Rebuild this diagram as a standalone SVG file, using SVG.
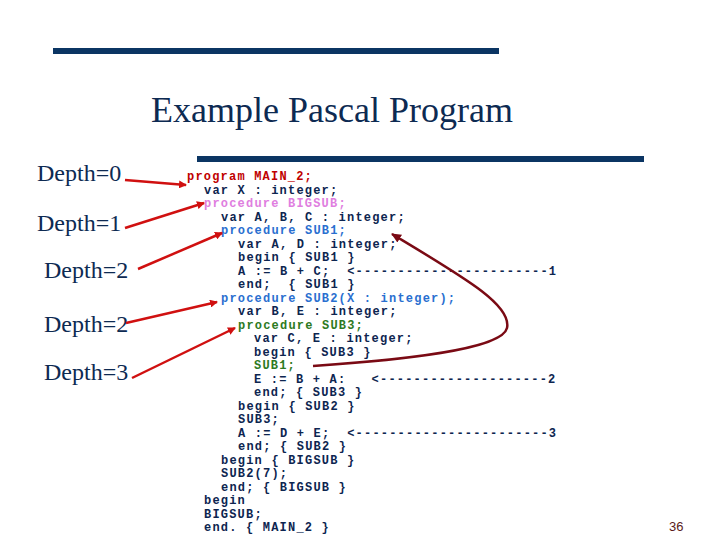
<svg xmlns="http://www.w3.org/2000/svg" width="720" height="540" viewBox="0 0 720 540">
<defs>
<style>
.bar{fill:#0b3563}
.title{font-family:"Liberation Serif","Times New Roman",serif;font-size:36px;fill:#0d2a52}
.depth{font-family:"Liberation Serif","Times New Roman",serif;font-size:24px;fill:#0d2a52}
.code{font-family:"Liberation Mono","Courier New",monospace;font-size:12px;letter-spacing:1.2px;font-weight:bold;fill:#0d2550}
.red{fill:#c00000}
.pink{fill:#e07ee0}
.blue{fill:#2a6fd0}
.green{fill:#2d7a22}
.arrow{stroke:#d01010;stroke-width:2.5;fill:none;marker-end:url(#ah)}
.curve{stroke:#7a0a14;stroke-width:2.5;fill:none;marker-end:url(#ah2)}
.pg{font-family:"Liberation Sans",Arial,sans-serif;font-size:13px;fill:#5a1a1a}
</style>
<marker id="ah" markerWidth="8" markerHeight="8" refX="7" refY="4" orient="auto" markerUnits="userSpaceOnUse">
<path d="M0,0 L8,4 L0,8 z" fill="#d01010"/>
</marker>
<marker id="ah2" markerWidth="10" markerHeight="9" refX="9" refY="4.5" orient="auto" markerUnits="userSpaceOnUse">
<path d="M0,0 L10,4.5 L0,9 z" fill="#7a0a14"/>
</marker>
</defs>
<rect width="720" height="540" fill="#ffffff"/>
<g id="bars">
<rect class="bar" x="53" y="48" width="446" height="6"/>
<rect class="bar" x="197" y="156" width="447" height="6"/>
</g>
<g id="title"><text class="title" x="332" y="122" text-anchor="middle">Example Pascal Program</text></g>
<g id="depth0"><text class="depth" x="37" y="181">Depth=0</text></g>
<g id="depth1"><text class="depth" x="37" y="231">Depth=1</text></g>
<g id="depth2a"><text class="depth" x="44" y="278">Depth=2</text></g>
<g id="depth2b"><text class="depth" x="44" y="332">Depth=2</text></g>
<g id="depth3"><text class="depth" x="44" y="380">Depth=3</text></g>
<g id="code" class="code">
<text x="187" y="180" class="red">program MAIN_2;</text>
<text x="204" y="193.5">var X : integer;</text>
<text x="204" y="207" class="pink">procedure BIGSUB;</text>
<text x="221" y="220.5">var A, B, C : integer;</text>
<text x="221" y="234" class="blue">procedure SUB1;</text>
<text x="238" y="247.5">var A, D : integer;</text>
<text x="238" y="261">begin { SUB1 }</text>
<text x="238" y="274.5">A := B + C; &#160;&lt;-----------------------1</text>
<text x="238" y="288">end; &#160;{ SUB1 }</text>
<text x="221" y="301.5" class="blue">procedure SUB2(X : integer);</text>
<text x="238" y="315">var B, E : integer;</text>
<text x="238" y="328.5" class="green">procedure SUB3;</text>
<text x="254" y="342">var C, E : integer;</text>
<text x="254" y="355.5">begin { SUB3 }</text>
<text x="254" y="369" class="green">SUB1;</text>
<text x="254" y="382.5">E := B + A: &#160;&#160;&lt;--------------------2</text>
<text x="254" y="396">end; { SUB3 }</text>
<text x="238" y="409.5">begin { SUB2 }</text>
<text x="238" y="423">SUB3;</text>
<text x="238" y="436.5">A := D + E; &#160;&lt;-----------------------3</text>
<text x="238" y="450">end; { SUB2 }</text>
<text x="221" y="463.5">begin { BIGSUB }</text>
<text x="221" y="477">SUB2(7);</text>
<text x="221" y="490.5">end; { BIGSUB }</text>
<text x="204" y="504">begin</text>
<text x="204" y="517.5">BIGSUB;</text>
<text x="204" y="531">end. { MAIN_2 }</text>
</g>
<g id="connectors">
<line class="arrow" x1="125" y1="180" x2="186" y2="185"/>
<line class="arrow" x1="125" y1="228" x2="204" y2="203"/>
<line class="arrow" x1="138" y1="269" x2="222" y2="233"/>
<line class="arrow" x1="126" y1="323" x2="217" y2="302"/>
<line class="arrow" x1="132" y1="378" x2="235" y2="328"/>
<path class="curve" d="M313,366 C400,360 502,350 507,328 C512,305 465,278 392,234"/>
</g>
<g id="page"><text class="pg" x="669" y="531">36</text></g>
</svg>
